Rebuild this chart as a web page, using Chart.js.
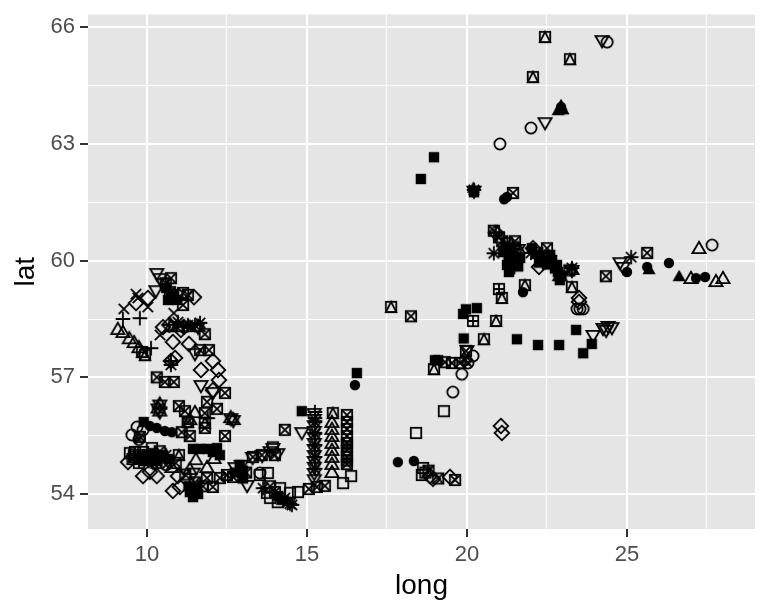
<!DOCTYPE html>
<html>
<head>
<meta charset="utf-8">
<title>long / lat</title>
<script src="https://cdn.jsdelivr.net/npm/chart.js@4"></script>
<style>
  body { margin: 0; background: #fff; }
  #wrap { width: 768px; height: 614px; }
</style>
</head>
<body>
<div id="wrap"><canvas id="mapChart"></canvas></div>
<script>
// tick labels
const longTicks = [10, 15, 20, 25];
const longMinor = [12.5, 17.5, 22.5, 27.5];
const latTicks = [54, 57, 60, 63, 66];
const latMinor = [55.5, 58.5, 61.5, 64.5];

// values, one list per marker shape: [long, lat]
const filledSquare = [[18.97,62.66],[18.56,62.1],[20.22,61.76],[19.97,58.75],[20.31,58.78],[19.88,58.63],[19.9,58.0],[21.56,57.98],[22.22,57.83],[19.0,57.44],[19.1,57.44],[23.41,58.22],[22.88,57.83],[23.63,57.62],[23.9,57.86],[22.9,59.5],[22.84,59.71],[22.81,59.89],[22.66,60.02],[22.28,60.14],[22.03,60.32],[21.31,59.71],[21.25,59.89],[21.44,59.89],[21.66,60.07],[21.44,60.14],[21.13,60.22],[16.56,57.11],[14.84,56.13],[9.9,55.85],[11.44,55.16],[11.65,55.16],[11.88,55.16],[12.19,55.18],[12.28,55.0],[12.06,55.08],[11.44,53.92],[11.34,54.05],[11.56,54.15],[10.66,58.99],[10.95,58.99],[10.2,55.05],[10.5,55.0],[10.7,54.9],[13.0,54.6],[12.9,54.75],[21.35,59.78],[21.5,60.0],[21.6,59.85],[21.3,60.1],[21.2,60.35],[21.4,60.25],[22.4,60.0],[22.5,59.9],[22.25,59.95],[22.6,60.15],[22.95,59.62],[22.75,59.8],[10.0,55.0],[10.3,54.85],[9.9,54.85],[10.75,59.05],[10.85,59.1],[10.6,59.3],[12.75,54.55],[11.6,54.0],[11.3,54.2],[13.0,54.4],[14.1,53.95],[14.2,53.85]];
const filledCircle = [[25.0,59.71],[25.63,59.84],[26.31,59.94],[27.16,59.55],[27.44,59.58],[16.5,56.8],[21.25,61.64],[21.16,61.58],[21.75,59.19],[17.84,54.82],[18.34,54.85],[10.31,55.7],[10.56,55.62],[10.78,55.59],[10.09,55.75],[22.94,63.95]];
const filledTriangle = [[22.94,63.98],[23.0,63.87],[20.2,61.85],[25.69,59.76],[26.63,59.58],[22.85,63.85]];
const openTriangle = [[27.25,60.3],[27.0,59.53],[27.78,59.45],[28.0,59.53],[15.78,55.83],[15.78,55.65],[15.78,55.47],[15.78,55.29],[15.78,55.11],[15.78,54.93],[15.78,54.75],[15.78,54.54],[11.34,54.62],[11.88,54.67],[11.53,54.87],[10.78,54.67],[11.34,55.9],[11.5,56.08],[9.09,58.22],[9.25,58.14],[9.45,57.98],[9.6,57.88],[9.75,57.75],[10.75,58.29],[10.95,58.29],[11.3,58.29],[22.9,59.6],[12.1,54.9]];
const downTriangle = [[24.22,65.67],[22.44,63.56],[24.78,59.96],[24.88,59.84],[23.94,58.09],[24.41,58.32],[24.25,58.27],[24.53,58.29],[24.35,58.22],[15.23,56.08],[15.23,55.93],[15.23,55.77],[15.23,55.62],[15.23,55.47],[15.23,55.31],[15.23,55.16],[15.23,55.0],[15.23,54.85],[15.23,54.7],[15.23,54.54],[15.23,54.38],[14.84,55.59],[13.94,55.18],[14.09,55.05],[13.13,54.23],[12.75,54.69],[10.31,59.68],[10.41,59.55],[10.5,59.42],[10.28,59.24],[11.69,56.8],[12.06,56.62],[11.5,57.62],[20.0,57.7],[20.22,61.8],[13.6,55.0],[13.3,54.95],[13.85,55.1],[11.45,54.55],[12.95,54.75]];
const openSquare = [[19.28,56.13],[18.41,55.57],[18.63,54.67],[18.59,54.49],[16.13,54.28],[16.38,54.46],[14.72,54.05],[13.78,54.54],[13.53,54.49],[13.94,55.2],[9.47,55.05],[9.63,55.08],[10.16,55.18],[9.88,55.08],[13.75,54.03],[14.09,53.79],[14.16,54.15],[14.47,54.03],[9.55,54.9],[13.85,53.9],[18.7,54.55]];
const openCircle = [[24.38,65.62],[22.0,63.41],[21.03,63.0],[27.66,60.4],[19.56,56.62],[19.84,57.08],[20.19,57.55],[23.44,58.76],[23.53,58.76],[23.63,58.76],[9.69,55.72],[9.53,55.52],[9.88,55.65],[13.53,54.54]];
const plusMark = [[9.25,58.5],[9.78,58.52],[10.13,57.75],[15.25,56.11],[15.25,55.95],[11.9,55.95]];
const crossMark = [[9.66,59.14],[9.28,58.76],[10.03,58.81],[10.84,58.65],[10.41,58.09],[9.72,59.04]];
const diamond = [[21.06,55.75],[21.09,55.57],[18.94,54.39],[19.47,54.44],[18.84,54.46],[23.5,59.04],[23.5,58.94],[22.25,59.84],[22.06,60.32],[10.03,59.04],[9.66,58.91],[11.47,59.06],[10.81,57.91],[11.31,57.86],[10.5,58.29],[11.06,58.22],[12.06,57.42],[11.69,57.19],[12.22,57.19],[12.25,56.93],[12.06,56.67],[10.88,57.5],[9.88,54.46],[10.31,54.46],[10.09,54.57],[9.41,54.82],[10.97,54.46],[10.81,54.08],[11.03,54.18]];
const starMark = [[25.13,60.09],[20.84,60.19],[13.63,54.15],[14.53,53.72],[14.31,53.9],[14.41,53.79],[14.47,53.75],[11.66,58.4],[11.28,58.34],[10.97,58.42],[11.5,58.34],[10.75,57.32],[23.28,59.81],[20.22,61.82],[15.25,55.85],[15.25,55.55],[15.25,55.25],[15.25,54.95],[15.25,54.65],[22.0,60.2],[10.6,55.0],[10.2,54.8]];
const diamondPlus = [[10.75,57.42],[10.7,58.35],[11.15,58.3],[21.45,60.3],[20.9,60.72],[9.9,54.95]];
const starDavid = [[10.4,56.3],[10.4,56.12],[12.7,55.9],[12.62,55.95],[23.28,59.76],[21.6,60.3],[11.6,58.3],[10.35,56.2]];
const squarePlus = [[21.0,59.27],[20.19,58.45],[9.9,55.0],[10.1,54.9],[9.75,54.8],[10.3,54.8],[9.6,55.0]];
const circleCross = [[20.03,57.37],[19.95,57.45],[9.75,55.4],[10.45,54.95],[10.6,54.75]];
const squareTriangle = [[22.44,65.75],[23.22,65.18],[22.06,64.72],[17.63,58.81],[20.91,58.45],[20.53,57.98],[21.09,59.04],[21.81,59.37],[18.97,57.21],[23.28,59.32],[15.81,56.08],[11.28,55.85],[11.81,55.83],[9.94,57.57],[9.85,57.65],[11.0,55.0]];
const squareCross = [[10.75,59.55],[10.59,59.42],[10.72,59.19],[10.81,59.12],[11.13,59.17],[11.28,59.12],[11.13,58.86],[11.81,58.11],[11.66,57.7],[11.94,57.7],[10.31,57.0],[10.56,56.88],[10.84,56.88],[12.44,56.6],[11.88,56.37],[12.19,56.19],[11.0,56.26],[11.19,56.13],[11.81,56.08],[12.44,55.49],[11.28,55.85],[11.81,55.7],[9.78,55.47],[11.09,55.59],[11.34,55.49],[16.25,56.03],[16.25,55.85],[16.25,55.67],[16.25,55.49],[16.25,55.31],[16.25,55.13],[16.25,54.95],[16.25,54.77],[16.25,55.22],[16.25,54.86],[14.31,55.65],[15.06,54.13],[15.31,54.18],[15.56,54.21],[13.31,54.95],[13.59,55.0],[14.0,55.0],[12.5,54.49],[12.69,54.44],[12.28,54.41],[12.06,54.18],[11.88,54.41],[25.63,60.2],[24.34,59.6],[18.25,58.57],[19.97,57.68],[19.53,57.37],[19.78,57.37],[19.31,57.39],[21.44,61.74],[22.5,60.32],[20.84,60.77],[21.0,60.6],[21.25,60.45],[21.5,60.5],[19.63,54.36],[19.1,54.4],[18.8,54.6],[10.0,54.9],[10.4,55.1],[9.6,54.95],[10.9,54.8],[23.2,59.75],[21.1,60.5],[22.2,60.2],[11.5,54.3],[11.75,54.2],[11.2,54.5],[13.85,54.2],[14.0,54.05],[13.1,54.55]];

// ggplot-like markers, drawn once on small canvases and used as point styles
function makeMark(paint) {
  const c = document.createElement('canvas');
  c.width = 22;
  c.height = 22;
  const g = c.getContext('2d');
  g.translate(11, 11);
  g.strokeStyle = '#000';
  g.fillStyle = '#000';
  g.lineWidth = 1.8;
  paint(g);
  return c;
}
const box = g => g.strokeRect(-5.2, -5.2, 10.4, 10.4);
const ring = g => { g.beginPath(); g.arc(0, 0, 5.6, 0, 7); g.stroke(); };
const tri = (g, s) => {
  g.beginPath();
  g.moveTo(0, -7.2 * s);
  g.lineTo(6.6, 4.2 * s);
  g.lineTo(-6.6, 4.2 * s);
  g.closePath();
};
const plus = (g, r) => { g.beginPath(); g.moveTo(-r, 0); g.lineTo(r, 0); g.moveTo(0, -r); g.lineTo(0, r); g.stroke(); };
const cross = (g, r) => { g.beginPath(); g.moveTo(-r, -r); g.lineTo(r, r); g.moveTo(r, -r); g.lineTo(-r, r); g.stroke(); };
const dia = g => { g.beginPath(); g.moveTo(0, -7.3); g.lineTo(7.3, 0); g.lineTo(0, 7.3); g.lineTo(-7.3, 0); g.closePath(); g.stroke(); };

const marks = {
  filledSquare: makeMark(g => g.fillRect(-5.2, -5.2, 10.4, 10.4)),
  filledCircle: makeMark(g => { g.beginPath(); g.arc(0, 0, 5.2, 0, 7); g.fill(); }),
  filledTriangle: makeMark(g => { tri(g, 1); g.fill(); }),
  openTriangle: makeMark(g => { tri(g, 1); g.stroke(); }),
  downTriangle: makeMark(g => { tri(g, -1); g.stroke(); }),
  openSquare: makeMark(box),
  openCircle: makeMark(ring),
  plusMark: makeMark(g => plus(g, 7.3)),
  crossMark: makeMark(g => cross(g, 5.2)),
  diamond: makeMark(dia),
  starMark: makeMark(g => { plus(g, 7.3); cross(g, 5.2); }),
  diamondPlus: makeMark(g => { dia(g); plus(g, 7.3); }),
  starDavid: makeMark(g => { tri(g, 1); g.stroke(); tri(g, -1); g.stroke(); }),
  squarePlus: makeMark(g => { box(g); plus(g, 5.2); }),
  circleCross: makeMark(g => { ring(g); cross(g, 4); }),
  squareTriangle: makeMark(g => { box(g); g.beginPath(); g.moveTo(0, -5.2); g.lineTo(5.2, 5.2); g.lineTo(-5.2, 5.2); g.closePath(); g.stroke(); }),
  squareCross: makeMark(g => { box(g); cross(g, 5.2); })
};

const seriesList = [
  ['filledSquare', filledSquare], ['filledCircle', filledCircle], ['filledTriangle', filledTriangle],
  ['openTriangle', openTriangle], ['downTriangle', downTriangle], ['openSquare', openSquare],
  ['openCircle', openCircle], ['plusMark', plusMark], ['crossMark', crossMark], ['diamond', diamond],
  ['starMark', starMark], ['diamondPlus', diamondPlus], ['starDavid', starDavid], ['squarePlus', squarePlus],
  ['circleCross', circleCross], ['squareTriangle', squareTriangle], ['squareCross', squareCross]
];

const panelBackground = {
  id: 'panelBackground',
  beforeDraw(chart) {
    const a = chart.chartArea;
    chart.ctx.fillStyle = '#E5E5E5';
    chart.ctx.fillRect(a.left, a.top, a.right - a.left, a.bottom - a.top);
  }
};

function axisOptions(title, min, max, major, minor, size) {
  return {
    type: 'linear',
    min: min,
    max: max,
    afterBuildTicks: axis => {
      axis.ticks = major.concat(minor).sort((a, b) => a - b).map(v => ({ value: v }));
    },
    afterFit: axis => {
      if (axis.isHorizontal()) axis.height = size; else axis.width = size;
      // the top label would otherwise push the panel down
      axis.paddingTop = axis.paddingBottom = axis.paddingLeft = axis.paddingRight = 0;
    },
    border: { display: false },
    grid: {
      color: '#fff',
      lineWidth: c => (major.includes(c.tick && c.tick.value) ? 2 : 1),
      tickColor: c => (major.includes(c.tick && c.tick.value) ? '#333' : 'rgba(0,0,0,0)'),
      tickWidth: 2,
      tickLength: 8
    },
    ticks: {
      autoSkip: false,
      maxRotation: 0,
      padding: 5,
      color: '#4D4D4D',
      font: { family: 'Liberation Sans', size: 22 },
      callback: v => (major.includes(v) ? String(v) : '')
    },
    title: {
      display: true,
      text: title,
      color: '#000',
      font: { family: 'Liberation Sans', size: 28 },
      padding: { top: 9, bottom: 11 }
    }
  };
}

new Chart(document.getElementById('mapChart'), {
  type: 'scatter',
  data: {
    datasets: seriesList.map(([name, values]) => ({
      label: name,
      data: values.map(p => ({ x: p[0], y: p[1] })),
      pointStyle: marks[name],
      pointRadius: 7
    }))
  },
  options: {
    responsive: true,
    maintainAspectRatio: false,
    animation: false,
    layout: { autoPadding: false, padding: { top: 14.5, right: 13, left: 0, bottom: 0 } },
    plugins: { legend: { display: false }, tooltip: { enabled: false } },
    scales: {
      x: axisOptions('long', 8.16, 29.0, longTicks, longMinor, 85),
      y: axisOptions('lat', 53.1, 66.33, latTicks, latMinor, 88)
    }
  },
  plugins: [panelBackground]
});
</script>
</body>
</html>
